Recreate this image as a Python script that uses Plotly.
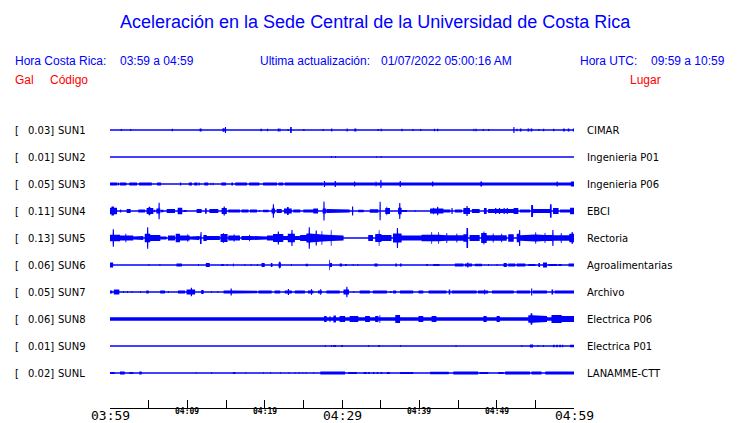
import numpy as np
import plotly.graph_objects as go

# ---------------- data ----------------
CODES = ["SUN1", "SUN2", "SUN3", "SUN4", "SUN5", "SUN6", "SUN7", "SUN8", "SUN9", "SUNL"]
PLACES = ["CIMAR", "Ingenieria P01", "Ingenieria P06", "EBCI", "Rectoria",
          "Agroalimentarias", "Archivo", "Electrica P06", "Electrica P01", "LANAMME-CTT"]
PEAK_GAL = [0.03, 0.01, 0.05, 0.11, 0.13, 0.06, 0.05, 0.06, 0.01, 0.02]

TICK_MINUTES = list(range(0, 61, 5))
TICK_LABELS = ["03:59", "", "04:09", "", "04:19", "", "04:29", "", "04:39", "", "04:49", "", "04:59"]
BIG_TICK_LABELS = ["03:59", "04:29", "04:59"]

# envelope events: (start minute, end minute, half amplitude in Gal)
SUN1_EV = [(1.4, 1.55, 0.012), (2.6, 2.75, 0.012), (8.0, 8.15, 0.014), (11.6, 11.85, 0.018),
           (14.55, 14.8, 0.02), (14.85, 15.0, 0.036), (19.45, 19.65, 0.014), (20.3, 20.45, 0.014),
           (21.7, 21.85, 0.018), (21.9, 22.05, 0.018), (22.95, 23.1, 0.012), (23.3, 23.5, 0.036),
           (25.0, 25.15, 0.012), (27.5, 27.65, 0.012), (28.6, 28.75, 0.018), (30.6, 30.75, 0.018),
           (31.6, 31.85, 0.018), (34.6, 34.75, 0.012), (35.0, 35.15, 0.014), (37.7, 37.85, 0.014),
           (39.1, 39.25, 0.012), (40.1, 40.25, 0.012), (41.9, 42.05, 0.014), (42.3, 42.45, 0.014),
           (47.0, 47.1, 0.014), (47.25, 47.4, 0.014), (48.2, 48.35, 0.012), (48.9, 49.05, 0.012),
           (52.15, 52.3, 0.036), (52.55, 52.7, 0.014), (53.0, 53.2, 0.018), (54.0, 54.2, 0.018),
           (54.4, 54.6, 0.018), (55.4, 55.55, 0.012), (56.0, 56.15, 0.014), (57.3, 57.45, 0.014),
           (58.6, 58.8, 0.018), (59.2, 59.4, 0.018), (59.85, 60.0, 0.018)]
SUN2_EV = [(28.6, 28.7, 0.012), (29.1, 29.2, 0.012), (34.4, 34.5, 0.01), (35.0, 35.1, 0.012)]
SUN3_EV = [(0.0, 0.9, 0.018), (1.0, 1.15, 0.018), (1.3, 2.1, 0.018), (2.5, 3.5, 0.018),
           (3.75, 5.4, 0.018), (6.1, 6.6, 0.018), (9.05, 9.2, 0.018), (10.2, 10.6, 0.018),
           (10.9, 11.3, 0.018), (11.45, 11.6, 0.018), (12.2, 12.7, 0.018), (13.0, 13.1, 0.014),
           (13.3, 13.4, 0.014), (14.4, 15.0, 0.018), (15.7, 15.9, 0.018), (16.2, 17.7, 0.018),
           (18.0, 19.3, 0.018), (19.8, 21.6, 0.018), (21.8, 22.4, 0.018), (22.6, 27.6, 0.018),
           (27.8, 60.0, 0.018), (27.65, 27.8, 0.036), (29.05, 29.2, 0.036), (31.55, 31.7, 0.03),
           (34.35, 34.45, 0.03), (34.95, 35.1, 0.048), (37.45, 37.6, 0.036), (41.65, 41.8, 0.03),
           (44.25, 44.35, 0.024), (47.9, 48.1, 0.03), (55.85, 55.95, 0.024), (57.75, 57.9, 0.03),
           (59.6, 60.0, 0.03)]
SUN4_EV = [(0.0, 0.9, 0.04), (0.2, 0.5, 0.055), (1.3, 1.45, 0.018), (2.15, 2.67, 0.024),
           (3.66, 4.53, 0.018), (4.74, 5.6, 0.036), (5.0, 5.2, 0.05), (5.7, 5.85, 0.015),
           (6.0, 6.5, 0.03), (6.28, 6.42, 0.1), (6.6, 6.9, 0.015), (7.33, 8.4, 0.024),
           (8.75, 9.35, 0.04), (9.5, 9.9, 0.012), (11.2, 11.85, 0.024), (12.3, 12.5, 0.032),
           (12.85, 14.0, 0.024), (14.44, 15.1, 0.036), (14.7, 14.85, 0.054), (15.3, 16.8, 0.018),
           (16.0, 16.15, 0.024), (17.0, 17.9, 0.018), (18.1, 19.0, 0.018), (18.6, 18.75, 0.024),
           (19.3, 19.4, 0.012), (19.8, 20.5, 0.015), (20.9, 21.35, 0.03), (21.05, 21.2, 0.08),
           (21.55, 22.2, 0.024), (22.5, 23.5, 0.03), (22.9, 23.1, 0.048), (23.7, 24.6, 0.018),
           (25.0, 26.3, 0.018), (26.3, 26.9, 0.03), (27.5, 27.95, 0.03), (27.6, 27.75, 0.115),
           (28.0, 28.9, 0.024), (28.9, 31.0, 0.018), (31.3, 31.45, 0.054), (32.1, 32.8, 0.015),
           (33.6, 34.7, 0.022), (34.85, 35.0, 0.11), (35.6, 36.2, 0.036), (35.75, 35.85, 0.05),
           (37.25, 37.7, 0.04), (37.4, 37.55, 0.096), (37.7, 38.4, 0.012), (39.4, 39.5, 0.012),
           (41.4, 43.1, 0.03), (41.8, 41.9, 0.04), (42.3, 42.45, 0.052), (43.1, 44.0, 0.018),
           (44.15, 44.3, 0.036), (44.6, 45.5, 0.018), (45.7, 46.55, 0.036), (46.1, 46.25, 0.06),
           (46.8, 47.8, 0.024), (48.35, 48.7, 0.036), (48.9, 52.2, 0.024), (49.8, 49.95, 0.036),
           (50.3, 50.45, 0.036), (50.9, 51.05, 0.036), (51.3, 51.45, 0.036), (52.2, 52.8, 0.036),
           (52.45, 52.55, 0.042), (53.0, 54.3, 0.018), (54.45, 54.7, 0.072), (54.7, 56.9, 0.024),
           (56.9, 57.1, 0.08), (57.3, 58.0, 0.036), (58.2, 59.5, 0.018), (59.5, 60.0, 0.04)]
SUN5_EV = [(0.0, 1.3, 0.04), (0.35, 0.5, 0.104), (1.3, 3.0, 0.03), (2.0, 2.1, 0.05),
           (3.0, 3.45, 0.018), (3.45, 4.3, 0.024), (4.5, 5.2, 0.05), (4.8, 4.95, 0.13),
           (5.2, 6.5, 0.036), (6.5, 7.3, 0.018), (7.5, 8.4, 0.03), (8.5, 9.05, 0.05),
           (9.05, 10.3, 0.03), (10.0, 10.1, 0.045), (10.3, 11.0, 0.018), (11.0, 11.6, 0.024),
           (11.64, 11.85, 0.072), (12.07, 12.5, 0.036), (12.5, 14.2, 0.024), (14.3, 15.2, 0.048),
           (14.6, 14.7, 0.06), (15.3, 16.8, 0.03), (16.0, 16.1, 0.045), (17.0, 19.0, 0.024),
           (18.0, 18.1, 0.04), (19.0, 20.3, 0.018), (20.3, 21.1, 0.03), (21.1, 22.4, 0.048),
           (21.7, 21.85, 0.078), (22.4, 23.0, 0.024), (23.0, 23.9, 0.05), (23.45, 23.6, 0.096),
           (23.9, 24.6, 0.024), (24.6, 25.4, 0.036), (25.4, 26.3, 0.055), (25.7, 25.85, 0.13),
           (26.3, 27.2, 0.048), (26.6, 26.75, 0.09), (27.2, 28.0, 0.042), (27.35, 27.45, 0.085),
           (28.0, 28.9, 0.036), (28.55, 28.65, 0.096), (28.9, 30.2, 0.03), (33.4, 34.0, 0.036),
           (34.3, 35.1, 0.048), (34.75, 34.85, 0.096), (35.1, 36.4, 0.036), (36.6, 37.7, 0.055),
           (37.1, 37.25, 0.12), (37.7, 40.3, 0.03), (40.3, 42.7, 0.04), (41.55, 41.65, 0.072),
           (42.45, 42.55, 0.072), (42.7, 45.7, 0.034), (43.5, 43.6, 0.06), (44.8, 44.9, 0.055),
           (45.7, 46.1, 0.045), (46.1, 46.3, 0.12), (46.5, 47.8, 0.036), (48.0, 48.7, 0.06),
           (48.3, 48.4, 0.078), (48.7, 51.3, 0.034), (49.5, 49.6, 0.055), (50.6, 50.7, 0.05),
           (51.5, 52.2, 0.045), (52.6, 53.0, 0.05), (52.9, 53.05, 0.096), (53.0, 55.6, 0.034),
           (53.9, 55.6, 0.042), (55.0, 55.1, 0.07), (55.6, 57.3, 0.036), (56.2, 56.3, 0.06),
           (57.2, 57.35, 0.096), (57.3, 59.4, 0.034), (58.3, 58.4, 0.06), (59.4, 60.0, 0.05),
           (59.7, 59.85, 0.072)]
SUN6_EV = [(0.0, 0.4, 0.03), (5.0, 5.1, 0.012), (6.4, 6.5, 0.012), (8.6, 9.3, 0.018),
           (11.4, 11.5, 0.012), (12.4, 12.9, 0.024), (12.6, 12.75, 0.03), (14.4, 14.7, 0.012),
           (15.1, 15.2, 0.012), (15.9, 16.0, 0.018), (17.4, 17.5, 0.012), (18.2, 18.3, 0.012),
           (19.0, 19.1, 0.012), (19.6, 20.0, 0.024), (19.8, 19.9, 0.03), (20.8, 21.0, 0.024),
           (21.8, 22.1, 0.03), (21.9, 22.0, 0.042), (23.4, 23.5, 0.012), (25.3, 25.6, 0.014),
           (28.35, 28.45, 0.064), (28.45, 28.7, 0.024), (29.7, 30.0, 0.018), (30.4, 30.6, 0.012),
           (31.4, 31.5, 0.012), (32.0, 32.1, 0.012), (34.2, 34.6, 0.018), (36.9, 37.1, 0.018),
           (37.5, 37.7, 0.018), (40.9, 41.1, 0.012), (41.8, 42.6, 0.012), (44.6, 45.7, 0.018),
           (45.9, 46.8, 0.018), (46.2, 46.35, 0.03), (47.2, 48.1, 0.014), (48.9, 49.0, 0.012),
           (50.0, 50.1, 0.012), (50.9, 51.3, 0.024), (51.5, 52.4, 0.018), (52.6, 53.7, 0.018),
           (54.1, 55.0, 0.012), (55.4, 55.6, 0.024), (56.0, 56.5, 0.03), (56.7, 57.8, 0.012),
           (58.0, 58.4, 0.012), (59.3, 60.0, 0.018)]
SUN7_EV = [(0.0, 0.3, 0.018), (0.5, 1.2, 0.03), (1.7, 1.8, 0.012), (2.2, 2.3, 0.012),
           (2.8, 2.9, 0.012), (3.9, 4.0, 0.012), (4.7, 5.0, 0.018), (6.5, 7.1, 0.018),
           (7.5, 7.6, 0.012), (8.8, 9.7, 0.018), (9.9, 11.0, 0.03), (10.45, 10.6, 0.052),
           (11.8, 12.1, 0.024), (13.1, 13.2, 0.012), (13.9, 14.0, 0.012), (14.7, 16.8, 0.018),
           (15.6, 15.75, 0.042), (16.8, 19.0, 0.016), (19.2, 20.9, 0.018), (21.3, 22.0, 0.018),
           (22.6, 23.5, 0.018), (23.0, 23.15, 0.036), (23.9, 25.2, 0.018), (25.6, 26.3, 0.018),
           (26.0, 26.1, 0.036), (26.9, 27.4, 0.018), (27.2, 27.3, 0.036), (28.0, 29.7, 0.018),
           (30.2, 30.9, 0.03), (30.55, 30.7, 0.064), (31.5, 31.6, 0.012), (32.3, 33.6, 0.018),
           (34.0, 35.8, 0.018), (36.2, 36.4, 0.012), (36.6, 37.0, 0.018), (37.5, 39.2, 0.018),
           (39.9, 40.5, 0.018), (41.2, 43.5, 0.018), (43.8, 44.0, 0.03), (44.2, 47.4, 0.018),
           (47.6, 48.9, 0.018), (48.4, 48.5, 0.03), (49.4, 52.2, 0.018), (52.6, 54.3, 0.018),
           (54.45, 54.6, 0.042), (54.7, 56.5, 0.018), (57.1, 57.3, 0.03), (57.5, 60.0, 0.018)]
SUN8_EV = [(0.0, 60.0, 0.022), (0.25, 0.4, 0.03), (14.55, 14.65, 0.024), (18.1, 18.2, 0.026),
           (18.6, 18.7, 0.026), (19.2, 19.3, 0.026), (20.9, 21.0, 0.026), (26.3, 26.4, 0.03),
           (27.7, 28.0, 0.036), (28.4, 28.5, 0.036), (28.9, 29.2, 0.042), (29.7, 30.4, 0.036),
           (31.0, 32.1, 0.036), (33.0, 33.6, 0.036), (34.3, 34.7, 0.036), (34.85, 34.95, 0.048),
           (36.9, 37.5, 0.048), (38.9, 39.1, 0.03), (39.9, 40.5, 0.036), (41.6, 42.2, 0.036),
           (42.9, 43.1, 0.03), (43.9, 44.3, 0.03), (44.5, 44.9, 0.03), (47.0, 47.1, 0.03),
           (48.3, 48.7, 0.036), (50.0, 50.4, 0.036), (51.1, 51.7, 0.03), (52.2, 53.4, 0.03),
           (54.1, 55.0, 0.045), (54.4, 54.6, 0.068), (55.0, 56.5, 0.036), (57.1, 58.4, 0.048),
           (58.4, 60.0, 0.036)]
SUN9_EV = [(27.8, 27.9, 0.012), (28.6, 28.7, 0.012), (28.9, 29.2, 0.012), (29.9, 30.1, 0.012),
           (33.4, 33.5, 0.012), (34.7, 34.9, 0.012), (37.5, 37.6, 0.012), (44.7, 44.8, 0.012),
           (53.2, 53.3, 0.012), (54.3, 54.7, 0.018), (55.3, 55.4, 0.012), (56.0, 56.1, 0.012),
           (57.3, 57.5, 0.015), (57.7, 57.9, 0.015), (58.1, 58.3, 0.015), (58.45, 58.6, 0.015),
           (59.5, 60.0, 0.015)]
SUNL_EV = [(0.0, 0.6, 0.012), (1.3, 1.9, 0.018), (2.5, 3.0, 0.012), (3.8, 4.1, 0.018),
           (11.1, 11.2, 0.01), (13.1, 13.2, 0.012), (15.9, 16.2, 0.012), (17.5, 17.6, 0.01),
           (19.8, 19.9, 0.01), (20.7, 20.8, 0.01), (22.0, 22.1, 0.01), (23.1, 23.2, 0.01),
           (23.9, 24.0, 0.01), (24.4, 24.5, 0.012), (24.9, 25.0, 0.01), (25.3, 25.4, 0.01),
           (26.3, 26.4, 0.01), (27.2, 30.4, 0.018), (30.8, 31.9, 0.012), (32.8, 33.2, 0.012),
           (33.4, 33.6, 0.012), (34.0, 34.2, 0.012), (34.5, 34.7, 0.012), (35.0, 35.2, 0.012),
           (35.8, 36.2, 0.012), (37.5, 39.2, 0.012), (41.4, 43.8, 0.014), (44.4, 47.6, 0.018),
           (47.8, 48.9, 0.012), (50.2, 50.9, 0.012), (51.1, 54.3, 0.018), (54.5, 55.8, 0.018),
           (56.3, 60.0, 0.018)]
EVENTS = [SUN1_EV, SUN2_EV, SUN3_EV, SUN4_EV, SUN5_EV, SUN6_EV, SUN7_EV, SUN8_EV, SUN9_EV, SUNL_EV]

# ---------------- layout constants ----------------
BLUE = "#0000ff"
RED = "#ff0000"
OFF = 8                     # page body margin offset in the browser
W, H = 740 - OFF, 423 - OFF
X0, X1 = 110, 574           # plot area in screen px
Y0, Y1 = 103, 408
GAL_PER_PX = 0.012
ROW_STEP = 27 * GAL_PER_PX
FIRST_ROW_PX = 130
PAD = 2                     # annotation inner padding compensation (px)

def px(xp):
    return (xp - X0) / (X1 - X0)

def py(yp):
    return (Y1 - yp) / (Y1 - Y0)

fig = go.Figure()
grid = np.round(np.arange(0, 60.0001, 0.02), 4)
for k, ev in enumerate(EVENTS):
    env = np.zeros_like(grid)
    for t0, t1, a in ev:
        m = (grid >= t0 - 1e-9) & (grid <= t1 + 1e-9)
        env[m] = np.maximum(env[m], a)
    base = -k * ROW_STEP
    fig.add_trace(go.Scatter(
        x=np.concatenate([grid, grid[::-1]]),
        y=np.concatenate([base + env, (base - env)[::-1]]),
        mode="lines", fill="toself", fillcolor=BLUE,
        line=dict(width=0, color=BLUE), hoverinfo="skip"))
    fig.add_trace(go.Scatter(x=[0, 60], y=[base, base], mode="lines",
                             line=dict(color=BLUE, width=1.3), hoverinfo="skip"))

ann = []
def text(t, xp, yp, size, color, family="Liberation Sans", xanchor="left"):
    shift = PAD if xanchor == "left" else 0
    ann.append(dict(text=t, x=px(xp - shift), y=py(yp), xref="paper", yref="paper",
                    xanchor=xanchor, yanchor="middle", showarrow=False,
                    font=dict(size=size, color=color, family=family)))

text("Aceleración en la Sede Central de la Universidad de Costa Rica", 375, 22, 18, BLUE, xanchor="center")
text("Hora Costa Rica:", 15, 61, 12, BLUE)
text("03:59 a 04:59", 120, 61, 12, BLUE)
text("Ultima actualización:", 260, 61, 12, BLUE)
text("01/07/2022 05:00:16 AM", 381, 61, 12, BLUE)
text("Hora UTC:", 580, 61, 12, BLUE)
text("09:59 a 10:59", 651, 61, 12, BLUE)
text("Gal", 15, 80, 12, RED)
text("Código", 50, 80, 12, RED)
text("Lugar", 630, 80, 12, RED)

for k in range(len(CODES)):
    base = -k * ROW_STEP
    for t, xp in (("[", 15), (f"{PEAK_GAL[k]:.2f}]", 28), (CODES[k], 58), (PLACES[k], 587)):
        ann.append(dict(text=t, x=px(xp - PAD), y=base, xref="paper", yref="y",
                        xanchor="left", yanchor="middle", showarrow=False,
                        font=dict(size=10, color="black", family="DejaVu Sans")))

for m, lab in zip(TICK_MINUTES, TICK_LABELS):
    if not lab:
        continue
    big = lab in BIG_TICK_LABELS
    ann.append(dict(text=lab if big else f"<b>{lab}</b>", x=m, xref="x",
                    y=py(415 if big else 411), yref="paper",
                    xanchor="center", yanchor="middle", showarrow=False,
                    font=dict(size=13 if big else 8, color="black", family="DejaVu Sans Mono")))

fig.update_layout(
    width=W, height=H,
    margin=dict(l=X0 - OFF, r=740 - X1, t=Y0 - OFF, b=423 - Y1, pad=0),
    paper_bgcolor="white", plot_bgcolor="white",
    showlegend=False, annotations=ann,
    xaxis=dict(range=[0, 60], showgrid=False, zeroline=False, tickvals=TICK_MINUTES,
               ticks="inside", ticklen=8, tickwidth=1, tickcolor="black",
               showticklabels=False, showline=True, linecolor="black", linewidth=1,
               automargin=False, fixedrange=True),
    yaxis=dict(range=[-(Y1 - FIRST_ROW_PX) * GAL_PER_PX, (FIRST_ROW_PX - Y0) * GAL_PER_PX],
               visible=False, showgrid=False, zeroline=False, automargin=False, fixedrange=True),
)
fig.write_html("out.html")
